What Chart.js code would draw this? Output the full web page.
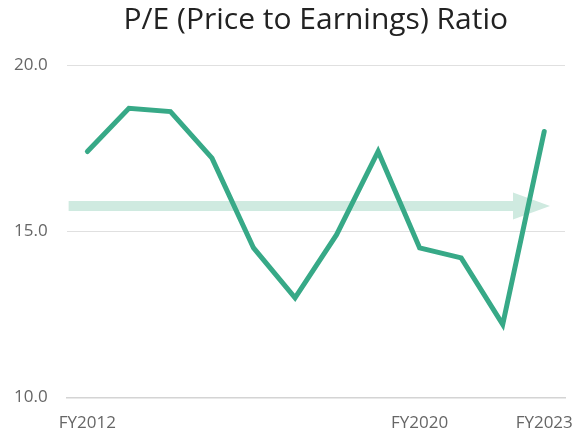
<!DOCTYPE html>
<html>
<head>
<meta charset="utf-8">
<script src="https://cdn.jsdelivr.net/npm/chart.js@4"></script>
<style>
  html, body { margin: 0; padding: 0; background: #fff; }
  #wrap { width: 574px; height: 431px; }
</style>
</head>
<body>
<div id="wrap"><canvas id="peChart" width="574" height="431"></canvas></div>
<script>
// ── データ ────────────────────────────────────────────
const years = ['FY2012','FY2013','FY2014','FY2015','FY2016','FY2017',
               'FY2018','FY2019','FY2020','FY2021','FY2022','FY2023'];
const peRatio = [17.4, 18.7, 18.6, 17.2, 14.5, 13.0, 14.9, 17.4, 14.5, 14.2, 12.2, 18.0];
const shownYears = ['FY2012', 'FY2020', 'FY2023'];
const yTicks = [10, 15, 20];
const trendLevel = [15.76];

// ── 横向き矢印（トレンド）────────────────────────────
const trendArrow = {
  id: 'trendArrow',
  beforeDatasetsDraw(chart) {
    const { ctx, chartArea, scales: { y } } = chart;
    const yc = y.getPixelForValue(trendLevel[0]);
    const x0 = chartArea.left + 2;
    const tip = chartArea.right - 15;
    const headBase = tip - 37;
    ctx.save();
    ctx.fillStyle = '#cfeae0';
    ctx.fillRect(x0, yc - 5, headBase - x0, 10);
    ctx.beginPath();
    ctx.moveTo(headBase, yc - 13.5);
    ctx.lineTo(tip, yc);
    ctx.lineTo(headBase, yc + 13.5);
    ctx.closePath();
    ctx.fill();
    ctx.restore();
  }
};

const FONT = "'Open Sans', 'Noto Sans', sans-serif";

new Chart(document.getElementById('peChart').getContext('2d'), {
  type: 'line',
  data: {
    labels: years,
    datasets: [{
      label: 'P/E',
      data: peRatio,
      borderColor: '#37a987',
      borderWidth: 5,
      pointRadius: 0,
      tension: 0,
      borderCapStyle: 'round',
      borderJoinStyle: 'miter',
      fill: false,
    }]
  },
  options: {
    responsive: false,
    animation: false,
    layout: { padding: { left: -5, right: 9, top: 2, bottom: -17 } },
    plugins: {
      legend: { display: false },
      tooltip: { enabled: false },
      title: {
        display: true,
        text: 'P/E (Price to Earnings) Ratio',
        fullSize: false,
        color: '#222',
        font: { family: FONT, size: 30, weight: 'normal' },
        padding: { top: 0, bottom: 27 }
      }
    },
    scales: {
      x: {
        offset: true,
        grid: { display: false, drawTicks: false },
        border: { display: true, color: '#d4d4d4', width: 1.5 },
        afterFit: s => { s.paddingLeft = 0; s.paddingRight = 0; },
        ticks: {
          autoSkip: false,
          maxRotation: 0,
          padding: 15,
          color: '#666',
          font: { family: FONT, size: 17 },
          callback: function (v) {
            const lab = this.getLabelForValue(v);
            return shownYears.includes(lab) ? lab : '';
          }
        }
      },
      y: {
        min: 10,
        max: 20,
        afterBuildTicks: axis => { axis.ticks = yTicks.map(v => ({ value: v })); },
        grid: { color: '#e0e0e0', drawTicks: false },
        border: { display: false },
        ticks: {
          padding: 19,
          color: '#666',
          font: { family: FONT, size: 17 },
          callback: v => v.toFixed(1)
        }
      }
    }
  },
  plugins: [trendArrow]
});
</script>
</body>
</html>
